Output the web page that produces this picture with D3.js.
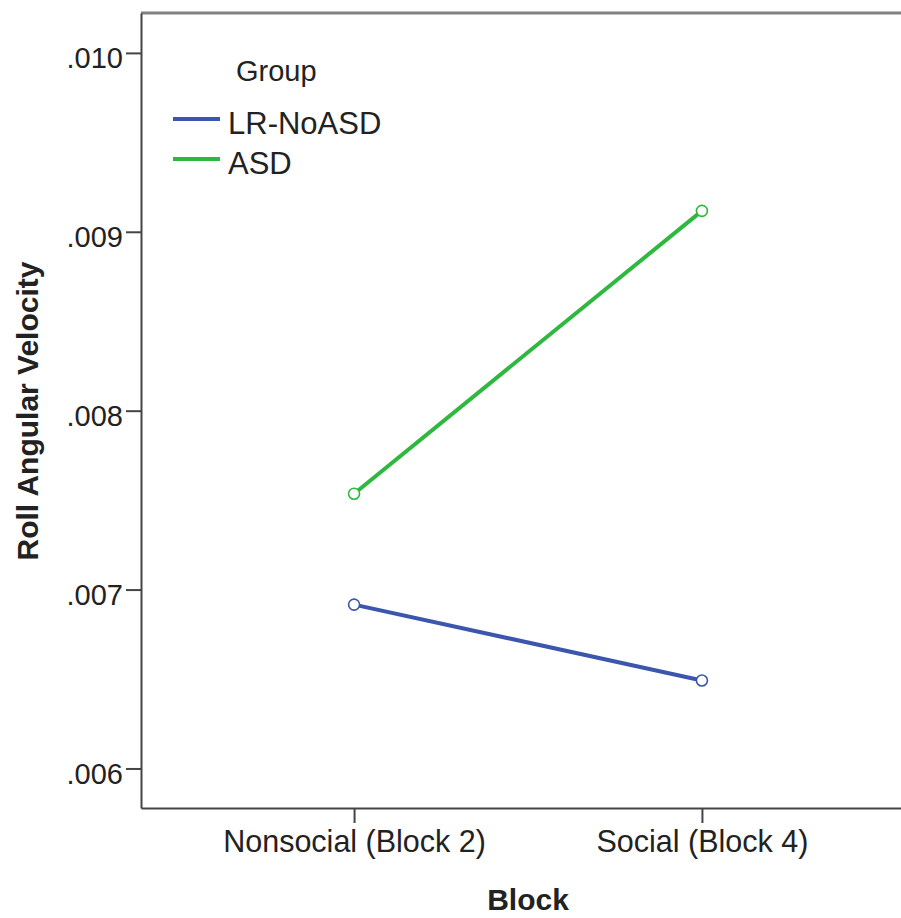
<!DOCTYPE html>
<html>
<head>
<meta charset="utf-8">
<script src="https://cdn.jsdelivr.net/npm/d3@7"></script>
<style>
  body { margin: 0; background: #fff; }
  svg text { font-family: "Liberation Sans", Arial, sans-serif; fill: #222; }
</style>
</head>
<body>
<div id="chart"></div>
<script>
const blocks = ["Nonsocial (Block 2)", "Social (Block 4)"];
const groups = ["LR-NoASD", "ASD"];
const lrNoAsd = [0.006916, 0.006492];
const asd = [0.007536, 0.009117];
const yTicks = [0.006, 0.007, 0.008, 0.009, 0.010];
const groupColors = ["#3c56ad", "#2fb83f"];

const widthValue = 901;
const heightValue = 918;
const margin = { top: 13, right: -14, bottom: 110, left: 141 };
const width = widthValue - margin.left - margin.right;
const height = heightValue - margin.top - margin.bottom;

const svg = d3.select("#chart")
  .append("svg")
  .attr("width", widthValue)
  .attr("height", heightValue);

const g = svg.append("g")
  .attr("transform", `translate(${margin.left}, ${margin.top})`);

const xScale = d3.scalePoint()
  .domain(blocks)
  .range([0, width])
  .padding(0.6125);

const yScale = d3.scaleLinear()
  .domain([0.005779, 0.010223])
  .range([height, 0]);

// top border of the frame
g.append("line")
  .attr("x1", 0).attr("x2", width)
  .attr("y1", 0).attr("y2", 0)
  .attr("stroke", "#808080")
  .attr("stroke-width", 3);

// y axis
const yAxis = g.append("g")
  .call(d3.axisLeft(yScale).tickValues(yTicks).tickSize(15).tickSizeOuter(0).tickPadding(3)
    .tickFormat(d => d3.format(".3f")(d).replace(/^0/, "")));
yAxis.select(".domain").attr("stroke", "#444").attr("stroke-width", 2);
yAxis.selectAll(".tick line").attr("stroke", "#444").attr("stroke-width", 2);
yAxis.selectAll(".tick text")
  .attr("font-size", 29)
  .attr("dy", "0.52em")
  .style("font-family", "'Liberation Sans', Arial, sans-serif")
  .attr("fill", "#222");

// x axis
const xAxis = g.append("g")
  .attr("transform", `translate(0, ${height})`)
  .call(d3.axisBottom(xScale).tickSize(15).tickSizeOuter(0).tickPadding(7));
xAxis.select(".domain").attr("stroke", "#444").attr("stroke-width", 2);
xAxis.selectAll(".tick line").attr("stroke", "#444").attr("stroke-width", 2);
xAxis.selectAll(".tick text")
  .attr("font-size", 30.5)
  .style("font-family", "'Liberation Sans', Arial, sans-serif")
  .attr("fill", "#222");

// axis titles
svg.append("text")
  .attr("x", margin.left + xScale(blocks[0]) / 2 + xScale(blocks[1]) / 2)
  .attr("y", 910)
  .attr("text-anchor", "middle")
  .attr("font-size", 30)
  .attr("font-weight", "bold")
  .text("Block");

svg.append("text")
  .attr("transform", "translate(38, 411) rotate(-90)")
  .attr("text-anchor", "middle")
  .attr("font-size", 30)
  .attr("font-weight", "bold")
  .text("Roll Angular Velocity");

// lines + markers
const seriesData = [lrNoAsd, asd];
const line = d3.line()
  .x((d, i) => xScale(blocks[i]))
  .y(d => yScale(d));

seriesData.forEach(function(vals, k) {
  g.append("path")
    .datum(vals)
    .attr("d", line)
    .attr("fill", "none")
    .attr("stroke", groupColors[k])
    .attr("stroke-width", 4);
  g.selectAll(".pt" + k)
    .data(vals)
    .enter()
    .append("circle")
      .attr("cx", (d, i) => xScale(blocks[i]))
      .attr("cy", d => yScale(d))
      .attr("r", 5.5)
      .attr("fill", "#fff")
      .attr("stroke", groupColors[k])
      .attr("stroke-width", 1.6);
});

// legend
svg.append("text")
  .attr("x", 236).attr("y", 81)
  .attr("font-size", 29)
  .text("Group");

groups.forEach(function(name, k) {
  const y = 119 + k * 40;
  svg.append("line")
    .attr("x1", 173).attr("x2", 220)
    .attr("y1", y).attr("y2", y)
    .attr("stroke", groupColors[k])
    .attr("stroke-width", 4);
  svg.append("text")
    .attr("x", 228).attr("y", y + 15)
    .attr("font-size", 31)
    .text(name);
});
</script>
</body>
</html>
